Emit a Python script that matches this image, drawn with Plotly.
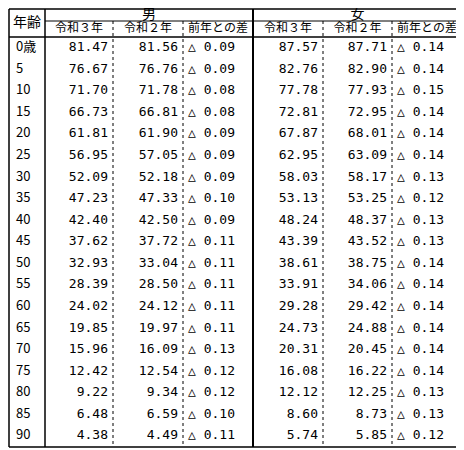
import plotly.graph_objects as go

# Data
ages = ["0歳", "5", "10", "15", "20", "25", "30", "35", "40", "45", "50", "55", "60", "65", "70", "75", "80", "85", "90"]
male_r3 = [81.47, 76.67, 71.70, 66.73, 61.81, 56.95, 52.09, 47.23, 42.40, 37.62, 32.93, 28.39, 24.02, 19.85, 15.96, 12.42, 9.22, 6.48, 4.38]
male_r2 = [81.56, 76.76, 71.78, 66.81, 61.90, 57.05, 52.18, 47.33, 42.50, 37.72, 33.04, 28.50, 24.12, 19.97, 16.09, 12.54, 9.34, 6.59, 4.49]
male_diff = [0.09, 0.09, 0.08, 0.08, 0.09, 0.09, 0.09, 0.10, 0.09, 0.11, 0.11, 0.11, 0.11, 0.11, 0.13, 0.12, 0.12, 0.10, 0.11]
female_r3 = [87.57, 82.76, 77.78, 72.81, 67.87, 62.95, 58.03, 53.13, 48.24, 43.39, 38.61, 33.91, 29.28, 24.73, 20.31, 16.08, 12.12, 8.60, 5.74]
female_r2 = [87.71, 82.90, 77.93, 72.95, 68.01, 63.09, 58.17, 53.25, 48.37, 43.52, 38.75, 34.06, 29.42, 24.88, 20.45, 16.22, 12.25, 8.73, 5.85]
female_diff = [0.14, 0.14, 0.15, 0.14, 0.14, 0.14, 0.13, 0.12, 0.13, 0.13, 0.14, 0.14, 0.14, 0.14, 0.14, 0.14, 0.13, 0.13, 0.12]
groups = ["男", "女"]
sub_headers = ["令和３年", "令和２年", "前年との差"]

FONT = "Noto Sans CJK JP"
NUM_FONT = "DejaVu Sans Mono"
cols = [9, 45, 113, 183, 253, 323, 392, 462]  # column borders
top, h1, h2, bottom = 9, 21, 37, 447
row_h = (bottom - h2) / len(ages)
row_y = [h2 + row_h * (i + 0.5) for i in range(len(ages))]

fig = go.Figure()

def add_text(xs, ys, texts, pos, family=FONT, size=13):
    fig.add_trace(go.Scatter(x=xs, y=ys, text=texts, mode="text", textposition=pos,
                             textfont=dict(family=family, size=size, color="black"),
                             hoverinfo="skip", showlegend=False))

# age column
add_text([16] * len(ages), row_y, ages, "middle right")
# value columns
for k, (r3, r2, d) in enumerate([(male_r3, male_r2, male_diff), (female_r3, female_r2, female_diff)]):
    c0 = 1 + 3 * k
    add_text([cols[c0 + 1] - 5] * len(ages), row_y, [f"{v:.2f}" for v in r3], "middle left", NUM_FONT)
    add_text([cols[c0 + 2] - 5] * len(ages), row_y, [f"{v:.2f}" for v in r2], "middle left", NUM_FONT)
    add_text([cols[c0 + 2] + 5] * len(ages), row_y, [f"△ {v:.2f}" for v in d], "middle right", NUM_FONT)

# headers
add_text([(cols[0] + cols[1]) / 2], [(top + h2) / 2], ["年齢"], "middle center", size=14)
add_text([(cols[1] + cols[4]) / 2, (cols[4] + cols[7]) / 2], [(top + h1) / 2] * 2, groups, "middle center", size=14)
add_text([(cols[i] + cols[i + 1]) / 2 for i in range(1, 7)], [(h1 + h2) / 2] * 6, sub_headers * 2, "middle center", size=12)

shapes = []
def line(x0, y0, x1, y1, w=1, dash="solid"):
    shapes.append(dict(type="line", x0=x0, y0=y0, x1=x1, y1=y1, line=dict(color="black", width=w, dash=dash)))

line(cols[0], top, cols[-1], top, 1.5)
line(cols[0], bottom, cols[-1], bottom, 1.5)
line(cols[0], h2, cols[-1], h2, 1.5)
line(cols[1], h1, cols[-1], h1, 1)
for x in [cols[0], cols[-1]]:
    line(x, top, x, bottom, 1.5)
line(cols[1], top, cols[1], bottom, 1.5)
line(cols[4], top, cols[4], bottom, 2)
for i in [2, 3, 5, 6]:
    line(cols[i], h1, cols[i], bottom, 1, "dot")

# page has an 8px body margin, so the figure is shifted by 8px
fig.update_layout(
    width=456, height=442, margin=dict(l=0, r=0, t=0, b=0),
    plot_bgcolor="white", paper_bgcolor="white", shapes=shapes,
    xaxis=dict(range=[8, 464], visible=False, fixedrange=True),
    yaxis=dict(range=[450, 8], visible=False, fixedrange=True),
)
fig.write_html("out.html")
